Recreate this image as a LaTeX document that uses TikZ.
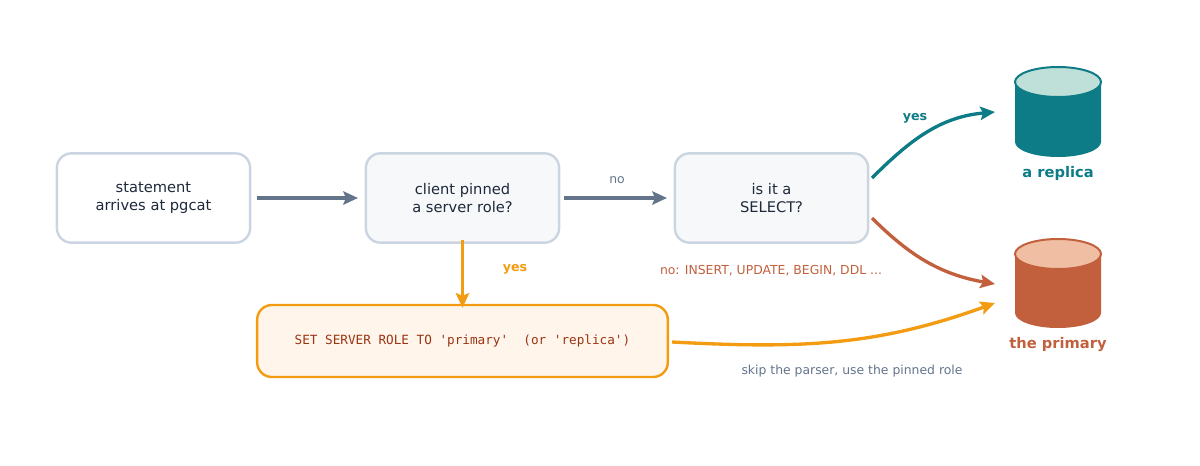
\documentclass[tikz,border=0pt]{standalone}
\usepackage{fontspec}
\setmainfont{DejaVu Sans}
\setmonofont{DejaVu Sans Mono}
\usetikzlibrary{arrows.meta}
\definecolor{edge}{HTML}{CBD5E1}
\definecolor{ink}{HTML}{1E293B}
\definecolor{slate}{HTML}{64748B}
\definecolor{orng}{HTML}{F39C12}
\definecolor{teal}{HTML}{0E7C86}
\definecolor{tealtop}{HTML}{BFE0D8}
\definecolor{rust}{HTML}{C2603E}
\definecolor{rusttop}{HTML}{F0BFA3}
\definecolor{mono}{HTML}{9A3412}
\begin{document}
\begin{tikzpicture}[x=0.75pt,y=-0.75pt,
  box/.style={draw=edge,line width=1.8pt,rounded corners=11pt,minimum width=145pt,minimum height=67pt,align=center,text=ink,font=\fontsize{11}{13.5}\selectfont},
  arr/.style={line width=2.5pt,-{Stealth[length=11pt,width=10pt,inset=2pt]}},
  lbl/.style={font=\fontsize{9.3}{11}\selectfont}]
\useasboundingbox (0,0) rectangle (1200,465);
\node[box,fill=white] (b1) at (153.5,198) {statement\\arrives at pgcat};
\node[box,fill=slate!5] (b2) at (462.5,198) {client pinned\\a server role?};
\node[box,fill=slate!5] (b3) at (771.5,198) {is it a\\SELECT?};
\node[draw=orng,fill=orange!8,line width=1.8pt,rounded corners=11pt,minimum width=308pt,minimum height=54pt,text=mono,font=\ttfamily\fontsize{9.5}{11}\selectfont] (b4) at (462.5,341) {SET SERVER ROLE TO 'primary'\ \ (or 'replica')};
% cylinders
\foreach \cx/\ty/\by/\c/\t/\nm in {1058/82/142/teal/tealtop/rep,1058/254/313/rust/rusttop/pri}{
  \fill[\c] (\cx-43,\ty) -- (\cx-43,\by) arc[start angle=180,end angle=360,x radius=43,y radius=-15] -- (\cx+43,\ty) -- cycle;
  \draw[\c,line width=1.5pt,fill=\t] (\cx,\ty) ellipse[x radius=43,y radius=15];
}
\coordinate (rep) at (995,112);
\coordinate (pri) at (995,284);
\coordinate (pri2) at (995,303);
\node[text=teal,font=\bfseries\fontsize{11}{13}\selectfont] (lr) at (1058,173) {a replica};
\node[text=rust,font=\bfseries\fontsize{11}{13}\selectfont] (lp) at (1058,345) {the primary};
\draw[arr,slate] ([xshift=4]b1.east) -- ([xshift=-5]b2.west);
\draw[arr,slate] ([xshift=3]b2.east) -- ([xshift=-5]b3.west);
\node[lbl,text=slate] (no) at (617,180) {no};
\draw[arr,orng] ([yshift=3]b2.south) -- ([yshift=-3]b4.north);
\node[lbl,text=orng,font=\bfseries\fontsize{9.5}{12}\selectfont] (y1) at (515,269) {yes};
\draw[arr,teal] (872,178) to[out=45,in=185] (rep);
\node[lbl,text=teal,font=\bfseries\fontsize{9.5}{12}\selectfont] (y2) at (915,118) {yes};
\draw[arr,rust] (872,218) to[out=-45,in=170] (pri);
\node[lbl,text=rust] (nl) at (771,271) {no: INSERT, UPDATE, BEGIN, DDL ...};
\draw[arr,orng] (672,342) to[out=-3,in=200] (pri2);
\node[lbl,text=slate] (sk) at (852,371) {skip the parser, use the pinned role};
\end{tikzpicture}
\end{document}
